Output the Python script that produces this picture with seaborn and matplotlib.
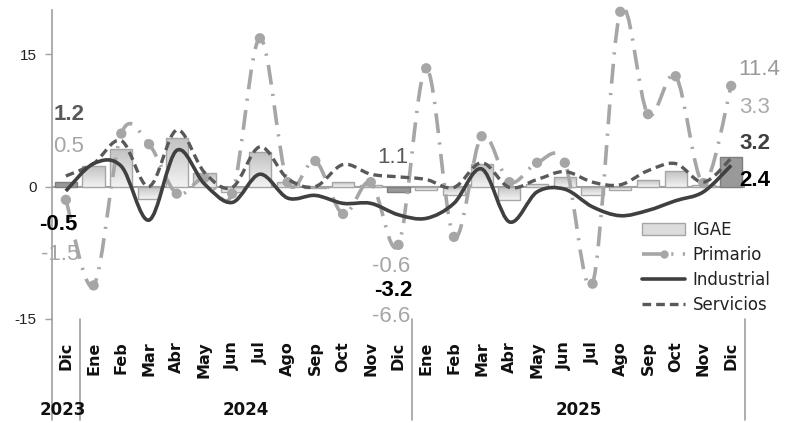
import numpy as np
import pandas as pd
import matplotlib
matplotlib.use("Agg")
import matplotlib.pyplot as plt
import seaborn as sns
from matplotlib.path import Path
from matplotlib.patches import PathPatch, Patch
from matplotlib.lines import Line2D
from matplotlib.colors import LinearSegmentedColormap
import matplotlib.transforms as mtransforms

# ---------------- data ----------------
months = ["Dic", "Ene", "Feb", "Mar", "Abr", "May", "Jun", "Jul", "Ago", "Sep", "Oct", "Nov", "Dic",
          "Ene", "Feb", "Mar", "Abr", "May", "Jun", "Jul", "Ago", "Sep", "Oct", "Nov", "Dic"]
years = ["2023", "2024", "2025"]
year_first = [0, 1, 13]
year_last = [0, 12, 24]
igae = [0.5, 2.3, 4.3, -1.4, 5.5, 1.5, -0.6, 3.9, 0.5, -0.2, 0.5, 0.2, -0.6,
        -0.4, -1.0, 2.6, -1.5, 0.3, 1.1, -1.0, -0.4, 0.7, 1.8, 0.2, 3.3]
primario = [-1.5, -11.2, 6.0, 4.8, -0.8, 1.0, -0.8, 16.8, 0.5, 2.9, -3.1, 0.5, -6.6,
            13.4, -5.7, 5.7, 0.5, 2.7, 2.7, -11.0, 19.8, 8.2, 12.5, 0.4, 11.4]
industrial = [-0.5, 2.6, 2.3, -3.8, 4.1, 0.3, -1.8, 1.4, -1.3, -1.0, -1.9, -1.9, -3.2,
              -3.6, -1.9, 2.0, -4.0, -0.6, -0.3, -2.3, -3.3, -2.7, -1.6, -0.6, 2.4]
servicios = [1.2, 2.6, 5.2, 0.0, 6.4, 1.6, -0.1, 4.5, 0.9, 0.0, 2.5, 1.4, 1.1,
             0.8, -0.1, 2.7, -0.1, 0.8, 1.7, 0.5, 0.2, 1.8, 2.6, 0.5, 3.2]
highlight = [0, 12, 24]  # December bars drawn darker

# ---------------- style ----------------
sns.set_theme(style="white")
plt.rcParams["font.family"] = ["Liberation Sans", "DejaVu Sans"]

C_PRIM = "#a6a6a6"
C_IND = "#404040"
C_SERV = "#595959"
C_BAR_EDGE = "#a6a6a6"

fig = plt.figure(figsize=(7.93, 4.23), dpi=100)
ax = fig.add_axes([52 / 793, (423 - 319) / 423, 693 / 793, 309 / 423])

idx = list(range(len(months)))
df = pd.DataFrame({"pos": idx, "igae": igae,
                   "grp": ["hl" if i in highlight else "n" for i in idx]})

sns.barplot(data=df, x="pos", y="igae", hue="grp", palette={"hl": "#999999", "n": "#dcdcdc"},
            dodge=False, width=0.8, legend=False, ax=ax, zorder=2, saturation=1)

# gradient fill for regular bars
grad = np.linspace(0, 1, 64).reshape(-1, 1)
cmap = LinearSegmentedColormap.from_list("g", ["#c2c2c2", "#f2f2f2"])
for p in list(ax.patches):
    x0, y0 = p.get_x(), p.get_y()
    w, h = p.get_width(), p.get_height()
    if w == 0:
        continue
    center = x0 + w / 2
    if int(round(center)) in highlight:
        p.set_edgecolor("#7f7f7f")
        p.set_linewidth(1.0)
        continue
    ylo, yhi = min(y0, y0 + h), max(y0, y0 + h)
    im = ax.imshow(grad, extent=(x0, x0 + w, ylo, yhi), origin="upper", cmap=cmap,
                   aspect="auto", zorder=2.1, interpolation="bilinear")
    im.set_clip_path(p)
    p.set_facecolor("none")
    p.set_edgecolor(C_BAR_EDGE)
    p.set_linewidth(1.0)
    p.set_zorder(2.2)


def smooth_path(xs, ys):
    """Bezier path passing through every data point (Catmull-Rom style smoothing)."""
    pts = np.column_stack([xs, ys]).astype(float)
    n = len(pts)
    verts = [pts[0]]
    codes = [Path.MOVETO]
    for i in range(n - 1):
        p0 = pts[i - 1] if i > 0 else pts[i]
        p1 = pts[i]
        p2 = pts[i + 1]
        p3 = pts[i + 2] if i + 2 < n else pts[i + 1]
        c1 = p1 + (p2 - p0) / 6.0
        c2 = p2 - (p3 - p1) / 6.0
        verts += [c1, c2, p2]
        codes += [Path.CURVE4] * 3
    return Path(verts, codes)


ls_prim = (0, (5.5, 2.6, 0.6, 2.6))
ls_serv = (0, (2.6, 1.5))

ax.add_patch(PathPatch(smooth_path(idx, servicios), fill=False, edgecolor=C_SERV,
                       lw=2.4, linestyle=ls_serv, zorder=4, capstyle="butt"))
ax.add_patch(PathPatch(smooth_path(idx, industrial), fill=False, edgecolor=C_IND,
                       lw=2.6, zorder=5))
ax.add_patch(PathPatch(smooth_path(idx, primario), fill=False, edgecolor=C_PRIM,
                       lw=2.6, linestyle=ls_prim, zorder=3, clip_on=False))
sns.scatterplot(x=idx, y=primario, color=C_PRIM, s=55, edgecolor="none", ax=ax,
                zorder=3.5, legend=False, clip_on=False)

# zero line
ax.axhline(0, color="#a0a0a0", lw=1.5, zorder=1)

ax.set_xlim(-0.5, len(months) - 0.5)
ax.set_ylim(-15, 20)
ax.set_yticks([-15, 0, 15])
ax.set_yticklabels(["-15", "0", "15"], fontsize=11, color="#222222")
ax.tick_params(axis="y", length=5, width=1, color="#a0a0a0", left=True, pad=6)
ax.set_xticks(idx)
ax.set_xticklabels(months, rotation=90, fontsize=11.5, fontweight="bold",
                   family="DejaVu Sans", color="#111111")
ax.tick_params(axis="x", length=0, pad=16)
ax.set_xlabel("")
ax.set_ylabel("")
for s in ["top", "right", "bottom"]:
    ax.spines[s].set_visible(False)
ax.spines["left"].set_color("#a0a0a0")
ax.spines["left"].set_linewidth(1.2)

# category group separators and year labels
trans = mtransforms.blended_transform_factory(ax.transData, ax.transAxes)
yb = -(420 - 319) / 309
ax.plot([-0.5, -0.5], [0, yb], transform=trans, color="#a0a0a0", lw=1.2, clip_on=False)
for last in year_last:
    ax.plot([last + 0.5, last + 0.5], [0, yb], transform=trans, color="#a0a0a0",
            lw=1.2, clip_on=False)
for yr, a, b in zip(years, year_first, year_last):
    ax.text((a + b) / 2 - (0.1 if a == b else 0), -(410 - 319) / 309, yr, transform=trans,
            ha="center", va="center", fontsize=12, fontweight="bold", family="DejaVu Sans",
            color="#111111")


def fmt(v):
    return f"{v:.1f}"


i0, i1, i2 = 0, 12, 24
lab = dict(fontsize=16)
# start (Dic 2023)
ax.text(-0.45, 8.2, fmt(servicios[i0]), color=C_SERV, fontweight="bold", ha="left", va="center", **lab)
ax.text(-0.45, 4.5, fmt(igae[i0]), color=C_PRIM, ha="left", va="center", **lab)
ax.text(-0.95, -4.3, fmt(industrial[i0]), color="#000000", fontweight="bold", ha="left", va="center", **lab)
ax.text(-0.9, -7.7, fmt(primario[i0]), color=C_PRIM, ha="left", va="center", **lab)
# middle (Dic 2024)
ax.text(i1 - 0.2, 3.3, fmt(servicios[i1]), color=C_SERV, ha="center", va="center", **lab)
ax.text(i1 - 0.25, -9.0, fmt(igae[i1]), color=C_PRIM, ha="center", va="center", **lab)
ax.text(i1 - 0.2, -11.8, fmt(industrial[i1]), color="#000000", fontweight="bold", ha="center", va="center", **lab)
ax.text(i1 - 0.25, -14.7, fmt(primario[i1]), color=C_PRIM, ha="center", va="center", **lab)
# end (Dic 2025)
ax.text(i2 + 0.25, 13.3, fmt(primario[i2]), color="#999999", ha="left", va="center", **lab)
ax.text(i2 + 0.3, 8.9, fmt(igae[i2]), color="#aaaaaa", ha="left", va="center", **lab)
ax.text(i2 + 0.3, 4.85, fmt(servicios[i2]), color=C_IND, fontweight="bold", ha="left", va="center", **lab)
ax.text(i2 + 0.3, 0.7, fmt(industrial[i2]), color="#000000", fontweight="bold", ha="left", va="center", **lab)

# legend
handles = [
    Patch(facecolor="#dcdcdc", edgecolor=C_BAR_EDGE, label="IGAE"),
    Line2D([], [], color=C_PRIM, lw=2.6, linestyle=ls_prim, marker="o", markersize=6,
           markeredgecolor="none", label="Primario"),
    Line2D([], [], color=C_IND, lw=2.6, label="Industrial"),
    Line2D([], [], color=C_SERV, lw=2.4, linestyle=ls_serv, label="Servicios"),
]
leg = fig.legend(handles=handles, loc="upper left", bbox_to_anchor=(642 / 793, 1 - 221 / 423),
                 frameon=False, prop={"family": "DejaVu Sans", "size": 12},
                 handlelength=2.6, handletextpad=0.45, labelspacing=0.42,
                 borderpad=0, borderaxespad=0)
for t in leg.get_texts():
    t.set_color("#222222")

fig.savefig("out.png", dpi=100)
